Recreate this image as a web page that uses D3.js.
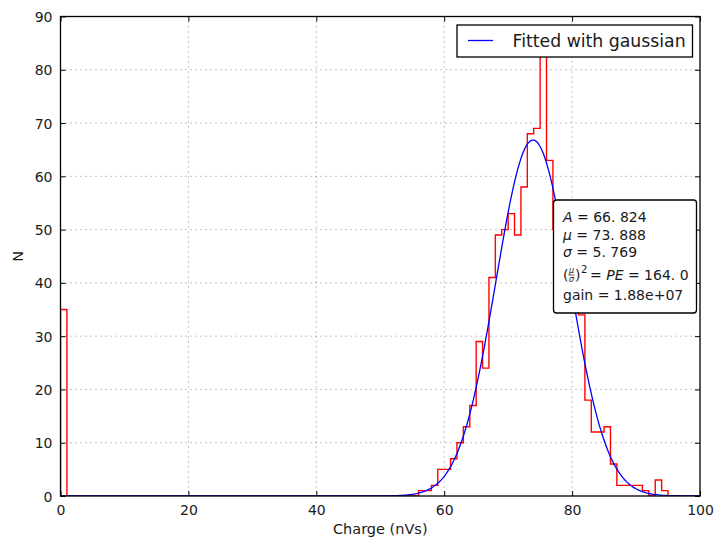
<!DOCTYPE html>
<html><head><meta charset="utf-8">
<script src="https://cdn.jsdelivr.net/npm/d3@7/dist/d3.min.js"></script>
<style>body{margin:0;background:#fff}svg{display:block}text{font-family:"DejaVu Sans",sans-serif;fill:#1a1a1a}</style>
</head><body><svg id="c" width="718" height="537"></svg>
<script>
// ---- data ----
const binStart = 0, binWidth = 1;
const counts = [35,0,0,0,0,0,0,0,0,0, 0,0,0,0,0,0,0,0,0,0,
  0,0,0,0,0,0,0,0,0,0, 0,0,0,0,0,0,0,0,0,0,
  0,0,0,0,0,0,0,0,0,0, 0,0,0,0,0,0,1,1,2,5,
  5,7,10,13,17,29,24,41,49,50, 53,49,58,68,69,86,63,50,47,40,
  35,34,18,12,12,13,6,2,2,2, 2,1,0,3,1,0,0,0,0,0];
const fitA = 66.824, fitMu = 73.888, fitSigma = 5.769;
const xTicks = [0,20,40,60,80,100];
const yTicks = [0,10,20,30,40,50,60,70,80,90];
const legendLabel = "Fitted with gaussian";
const xLabel = "Charge (nVs)", yLabel = "N";

// ---- layout ----
const svg = d3.select("#c");
const L = 60.5, R = 700, T = 16.5, B = 496;
const x = d3.scaleLinear().domain([0,100]).range([L,R]);
const y = d3.scaleLinear().domain([0,90]).range([B,T]);

const clipId = "pc";
svg.append("defs").append("clipPath").attr("id",clipId).append("rect")
  .attr("x",L).attr("y",T).attr("width",R-L).attr("height",B-T);

// grid
const g = svg.append("g");
g.selectAll(".gx").data(xTicks.slice(1,-1)).enter().append("line")
  .attr("x1",d=>x(d)).attr("x2",d=>x(d)).attr("y1",T).attr("y2",B)
  .attr("stroke","#888").attr("stroke-width",1).attr("stroke-dasharray","1,4");
g.selectAll(".gy").data(yTicks.slice(1,-1)).enter().append("line")
  .attr("y1",d=>y(d)).attr("y2",d=>y(d)).attr("x1",L).attr("x2",R)
  .attr("stroke","#888").attr("stroke-width",1).attr("stroke-dasharray","1,4");

// histogram step outline
const pts = [[binStart, 0]];
counts.forEach((c,i)=>{
  const x0 = binStart + i*binWidth, x1 = x0 + binWidth;
  pts.push([x0,c]); pts.push([x1,c]);
});
pts.push([binStart+counts.length*binWidth,0]);
const plot = svg.append("g").attr("clip-path",`url(#${clipId})`);
plot.append("path").datum(pts)
  .attr("d", d3.line().x(d=>x(d[0])).y(d=>y(d[1])))
  .attr("fill","none").attr("stroke","#ff0000").attr("stroke-width",1.4);

// fitted gaussian
const fx = d3.range(0, 100.01, 0.25);
const fit = fx.map(v=>[v, fitA*Math.exp(-Math.pow(v-fitMu,2)/(2*fitSigma*fitSigma))]);
plot.append("path").datum(fit)
  .attr("d", d3.line().x(d=>x(d[0])).y(d=>y(d[1])))
  .attr("fill","none").attr("stroke","#0000ff").attr("stroke-width",1.3);

// axes box with inward ticks
const axB = svg.append("g").attr("transform",`translate(0,${B})`)
  .call(d3.axisBottom(x).tickValues(xTicks).tickSize(-5).tickPadding(8).tickFormat(d3.format("d")));
const axT = svg.append("g").attr("transform",`translate(0,${T})`)
  .call(d3.axisTop(x).tickValues(xTicks).tickSize(-5).tickFormat(""));
const axL = svg.append("g").attr("transform",`translate(${L},0)`)
  .call(d3.axisLeft(y).tickValues(yTicks).tickSize(-5).tickPadding(8).tickFormat(d3.format("d")));
const axR = svg.append("g").attr("transform",`translate(${R},0)`)
  .call(d3.axisRight(y).tickValues(yTicks).tickSize(-5).tickFormat(""));
[axB,axT,axL,axR].forEach(a=>{
  a.select(".domain").remove();
  a.selectAll("line").attr("stroke","#000").attr("stroke-width",1);
  a.selectAll("text").style("font-family","DejaVu Sans").style("font-size","14px").attr("fill","#1a1a1a");
});
axL.selectAll("text").attr("dy","0.36em");
axB.selectAll("text").attr("dy","0.8em");
svg.append("rect").attr("x",L).attr("y",T).attr("width",R-L).attr("height",B-T)
  .attr("fill","none").attr("stroke","#000").attr("stroke-width",1.3);

// axis labels
svg.append("text").attr("x",(L+R)/2).attr("y",534).attr("text-anchor","middle")
  .style("font-size","14.5px").text(xLabel);
svg.append("text").attr("transform",`translate(23,${(T+B)/2}) rotate(-90)`).attr("text-anchor","middle")
  .style("font-size","14.5px").text(yLabel);

// legend
svg.append("rect").attr("x",457).attr("y",25).attr("width",235.5).attr("height",32)
  .attr("fill","#fff").attr("stroke","#000").attr("stroke-width",1.3);
svg.append("line").attr("x1",468).attr("x2",493).attr("y1",40.5).attr("y2",40.5)
  .attr("stroke","#0000ff").attr("stroke-width",1.3);
svg.append("text").attr("x",512.5).attr("y",47).style("font-size","17.3px").text(legendLabel);

// fit info box
const bx = 553.5, by = 200, bw = 143, bh = 113;
svg.append("rect").attr("x",bx).attr("y",by).attr("width",bw).attr("height",bh).attr("rx",3)
  .attr("fill","#fff").attr("stroke","#000").attr("stroke-width",1.3);
const tx = 563, fs = "14px";
function mathLine(yy, parts){
  const t = svg.append("text").attr("x",tx).attr("y",yy).style("font-size",fs);
  parts.forEach(p=>{ t.append("tspan").style("font-style",p[1]?"italic":"normal").text(p[0]); });
  return t;
}
const fmt = v => { const s = v.toFixed(3); return s.replace(".", ". "); };
mathLine(221.5, [["A",1],[" = " + fmt(fitA),0]]);
mathLine(240, [["μ",1],[" = " + fmt(fitMu),0]]);
mathLine(257, [["σ",1],[" = " + fmt(fitSigma),0]]);
// (mu/sigma)^2 = PE = 164.0
const pe = Math.pow(fitMu/fitSigma,2);
const l4y = 280;
svg.append("text").attr("x",tx).attr("y",l4y).style("font-size",fs).text("(");
svg.append("text").attr("x",tx+8.5).attr("y",l4y-7).attr("text-anchor","middle").style("font-size","8px").style("font-style","italic").text("μ");
svg.append("line").attr("x1",tx+5.5).attr("x2",tx+11.5).attr("y1",l4y-5).attr("y2",l4y-5).attr("stroke","#1a1a1a").attr("stroke-width",0.7);
svg.append("text").attr("x",tx+8.5).attr("y",l4y+1.5).attr("text-anchor","middle").style("font-size","8px").style("font-style","italic").text("σ");
svg.append("text").attr("x",tx+12).attr("y",l4y).style("font-size",fs).text(")");
svg.append("text").attr("x",tx+18).attr("y",l4y-7).style("font-size","10px").text("2");
const t4 = svg.append("text").attr("x",tx+27).attr("y",l4y).style("font-size",fs);
t4.append("tspan").text("= ");
t4.append("tspan").style("font-style","italic").text("PE");
t4.append("tspan").text(" = " + pe.toFixed(1).replace(".", ". "));
svg.append("text").attr("x",tx).attr("y",300).style("font-size",fs).text("gain = 1.88e+07");
</script></body></html>
